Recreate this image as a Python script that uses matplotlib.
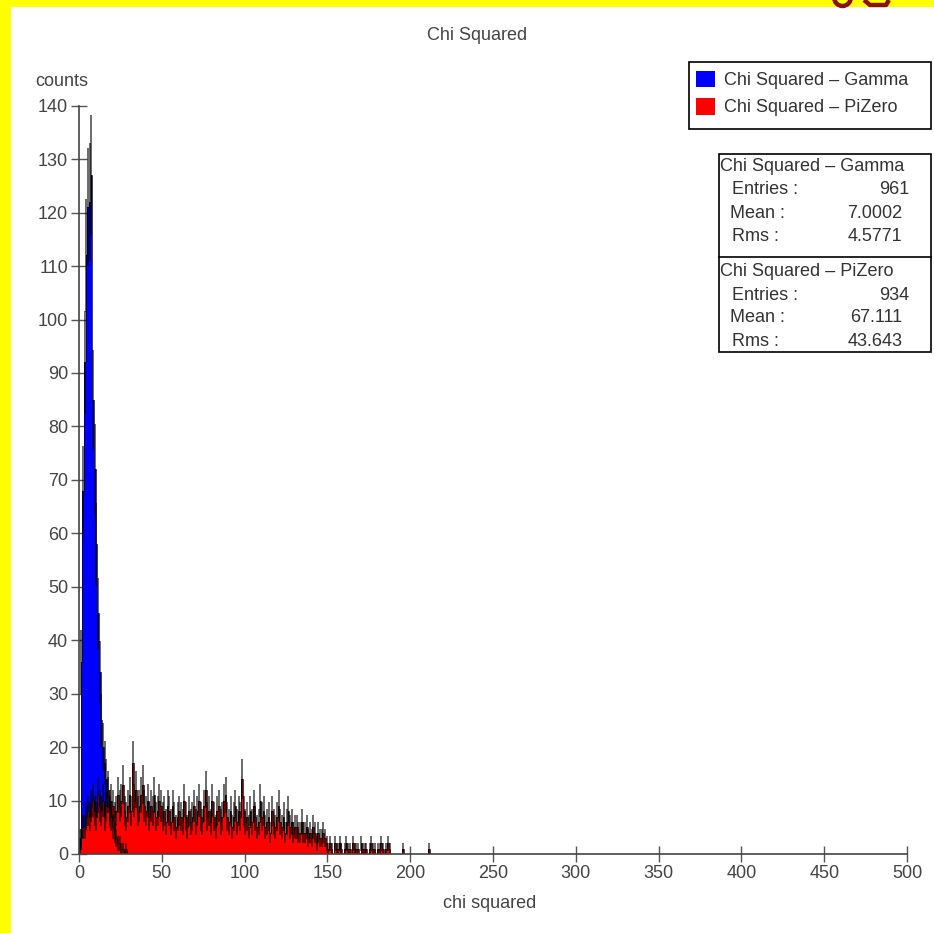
import numpy as np
import matplotlib
matplotlib.use("Agg")
import matplotlib.pyplot as plt
from matplotlib.patches import Rectangle, Arc
from matplotlib.lines import Line2D

plt.rcParams['font.family'] = ['Liberation Sans', 'DejaVu Sans']

# ---------------- data ----------------
bin_width = 1.0
gamma_counts = [3, 36, 68, 92, 112, 121, 122, 127, 85, 72, 58, 45, 34, 25, 20,
                17, 14, 11, 9, 7, 5, 4, 3, 2, 2, 1, 1, 0, 1]
pizero_0_19 = [1, 3, 5, 5, 7, 8, 7, 9, 10, 8, 7, 11, 9, 8, 10, 7, 9, 12, 8, 10]
pizero_20_39 = [9, 7, 8, 11, 9, 10, 13, 8, 7, 9, 11, 8, 17, 10, 12, 8, 9, 11, 13, 9]
pizero_40_69 = [8, 10, 7, 9, 8, 11, 7, 8, 10, 9, 7, 8, 6, 9, 8, 6, 9, 7, 5, 7,
                8, 7, 6, 10, 7, 5, 8, 6, 7, 9]
pizero_70_99 = [6, 8, 10, 7, 6, 9, 12, 7, 8, 6, 10, 7, 5, 8, 9, 6, 7, 10, 11, 7,
                6, 8, 5, 7, 9, 6, 8, 7, 14, 8]
pizero_100_129 = [6, 7, 5, 8, 6, 9, 7, 5, 6, 10, 7, 8, 5, 6, 7, 4, 8, 6, 5, 7,
                  9, 6, 5, 7, 4, 6, 8, 5, 6, 4]
pizero_130_149 = [5, 5, 4, 4, 6, 4, 4, 5, 3, 4, 3, 5, 4, 2, 4, 3, 3, 4, 3, 2]
pizero_150_187 = [1, 2, 1, 0, 2, 1, 1, 2, 1, 0, 1, 2, 1, 1, 0, 2, 1, 1, 1, 0,
                  2, 1, 1, 1, 0, 1, 2, 1, 1, 0, 1, 1, 2, 1, 0, 1, 2, 1]
pizero_188_211 = [0, 0, 0, 0, 0, 0, 0, 1, 0, 0, 0, 0, 0, 0, 0, 0, 0, 0, 0, 0,
                  0, 0, 0, 1]
pizero_counts = (pizero_0_19 + pizero_20_39 + pizero_40_69 + pizero_70_99 +
                 pizero_100_129 + pizero_130_149 + pizero_150_187 + pizero_188_211)

series_names = ["Chi Squared \u2013 Gamma", "Chi Squared \u2013 PiZero"]
stats_entries = ["961", "934"]
stats_mean = ["7.0002", "67.111"]
stats_rms = ["4.5771", "43.643"]
x_ticks = list(range(0, 501, 50))
y_ticks = list(range(0, 141, 10))

# ---------------- figure ----------------
W, H = 934, 933
fig = plt.figure(figsize=(W / 100, H / 100), dpi=100)
fig.patch.set_facecolor('white')

def fx(x):
    return x / W

def fy(y):
    return 1 - y / H

ax = fig.add_axes([fx(79), fy(854), (907 - 79) / W, (854 - 105.7) / H])
ax.set_facecolor('white')

def draw_hist(counts, color):
    counts = np.asarray(counts, dtype=float)
    edges = np.arange(len(counts) + 1) * bin_width
    left = edges[:-1]
    ax.bar(left, counts, width=bin_width, align='edge', color=color,
           linewidth=0, zorder=2)
    ax.stairs(counts, edges, color='black', linewidth=0.7, alpha=0.75, zorder=3)
    nz = counts > 0
    centers = left + bin_width / 2
    err = np.sqrt(counts)
    ax.vlines(centers[nz], (counts - err)[nz], (counts + err)[nz],
              color='black', alpha=0.58, linewidth=1.4, zorder=3)

draw_hist(gamma_counts, '#0000ff')
draw_hist(pizero_counts, '#ff0000')

ax.set_xlim(0, 500)
ax.set_ylim(0, 140)
ax.set_xticks(x_ticks)
ax.set_yticks(y_ticks)
for s in ['top', 'right']:
    ax.spines[s].set_visible(False)
for s in ['left', 'bottom']:
    ax.spines[s].set_color('#444444')
    ax.spines[s].set_linewidth(1.2)
    ax.spines[s].set_zorder(4)
ax.tick_params(direction='inout', length=11.5, width=1.0, color='#555555',
               labelsize=13, labelcolor='#444444', pad=2)

txtc = '#444444'
fig.text(fx(477), fy(36), "Chi Squared", ha='center', va='center',
         fontsize=13, color=txtc)
fig.text(fx(62), fy(81), "counts", ha='center', va='center',
         fontsize=13, color=txtc)
fig.text(fx(490), fy(904), "chi squared", ha='center', va='center',
         fontsize=13, color=txtc)

# yellow border (frame of the page)
fig.patches.append(Rectangle((0, fy(7)), 1, 7 / H, transform=fig.transFigure,
                             facecolor='#ffff00', edgecolor='none', zorder=10))
fig.patches.append(Rectangle((0, 0), 11 / W, 1, transform=fig.transFigure,
                             facecolor='#ffff00', edgecolor='none', zorder=10))
# bottom edge of a cropped logo in the page banner (decoration)
logo_c = '#8b1010'
fig.patches.append(Arc((fx(842.5), fy(-3)), 17 / W, 18 / H, theta1=180, theta2=360,
                       transform=fig.transFigure, color=logo_c, linewidth=3.2,
                       zorder=11))
fig.lines.append(Line2D([fx(864), fx(870), fx(886), fx(889)],
                        [fy(0), fy(5), fy(5), fy(0)],
                        transform=fig.transFigure, color=logo_c, linewidth=3.2,
                        solid_capstyle='butt', zorder=11))

def rect_px(x0, y0, x1, y1, **kw):
    fig.patches.append(Rectangle((fx(x0), fy(y1)), (x1 - x0) / W, (y1 - y0) / H,
                                 transform=fig.transFigure, **kw))

# legend box
rect_px(689, 62, 930.5, 129, facecolor='white', edgecolor='black',
        linewidth=1.2, zorder=5)
leg_colors = ['#0000ff', '#ff0000']
leg_rows = [(71, 87.3, 80.7), (97.7, 115, 107.7)]
for name, c, (y0, y1, yc) in zip(series_names, leg_colors, leg_rows):
    rect_px(696, y0, 714.7, y1, facecolor=c, edgecolor='none', zorder=6)
    fig.text(fx(724), fy(yc), name, ha='left', va='center', fontsize=13,
             color='#333333', zorder=7)

# stats box
rect_px(719, 154, 930.5, 352.3, facecolor='white', edgecolor='black',
        linewidth=1.2, zorder=5)
fig.lines.append(Line2D([fx(719), fx(930.5)], [fy(256.5), fy(256.5)],
                        transform=fig.transFigure, color='black',
                        linewidth=1.2, zorder=6))
row_sets = [(166.7, 190, 213, 236.7), (271.7, 296, 318, 341.7)]
for i, (yt, ye, ym, yr) in enumerate(row_sets):
    fig.text(fx(720.5), fy(yt), series_names[i], ha='left', va='center',
             fontsize=13, color='#333333', zorder=7)
    fig.text(fx(731.5), fy(ye), "Entries :", ha='left', va='center',
             fontsize=13, color='#333333', zorder=7)
    fig.text(fx(730.5), fy(ym), "Mean :", ha='left', va='center',
             fontsize=13, color='#333333', zorder=7)
    fig.text(fx(731.5), fy(yr), "Rms :", ha='left', va='center',
             fontsize=13, color='#333333', zorder=7)
    fig.text(fx(909), fy(ye), stats_entries[i], ha='right', va='center',
             fontsize=13, color='#333333', zorder=7)
    fig.text(fx(902.5), fy(ym), stats_mean[i], ha='right', va='center',
             fontsize=13, color='#333333', zorder=7)
    fig.text(fx(902.5), fy(yr), stats_rms[i], ha='right', va='center',
             fontsize=13, color='#333333', zorder=7)

fig.savefig("out.png", dpi=100, facecolor='white')
